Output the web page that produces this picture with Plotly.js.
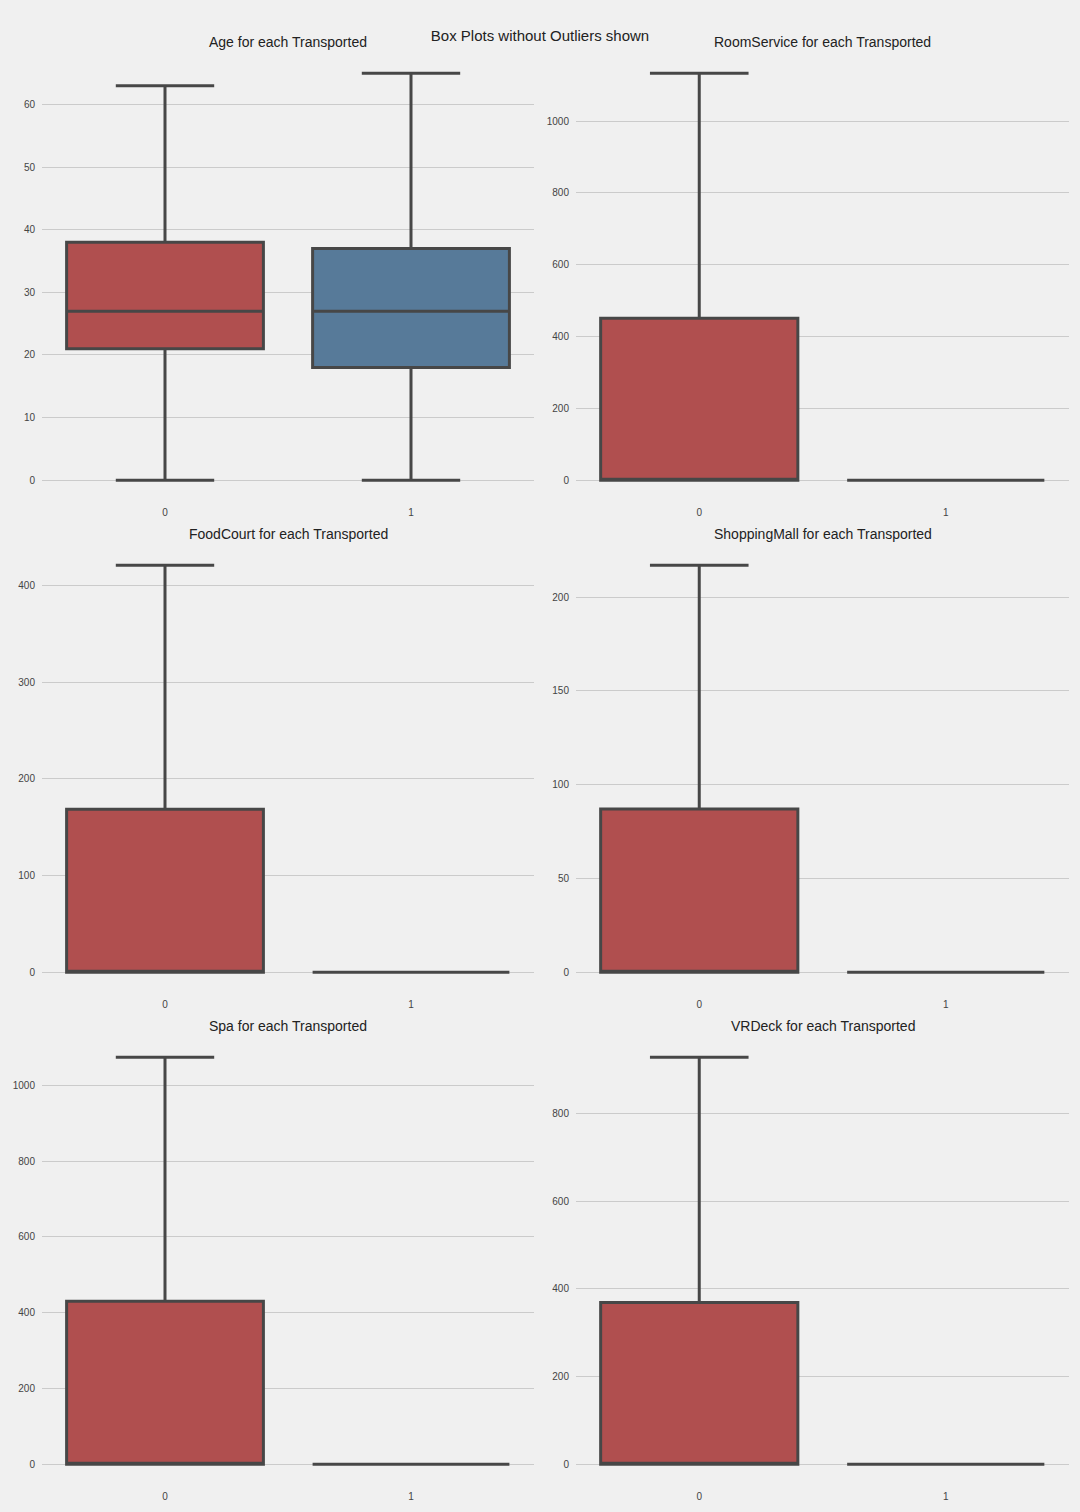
<!DOCTYPE html>
<html>
<head>
<meta charset="utf-8">
<script src="https://cdn.plot.ly/plotly-3.0.1.min.js"></script>
<style>html,body{margin:0;padding:0;background:#f0f0f0;}#chart{width:1080px;height:1512px;}</style>
</head>
<body>
<div id="chart"></div>
<script>
const categories = ['0', '1'];
const features = ['Age', 'RoomService', 'FoodCourt', 'ShoppingMall', 'Spa', 'VRDeck'];
// Transported = 0
const lower0 = [0, 0, 0, 0, 0, 0];
const q1_0 = [21, 0, 0, 0, 0, 0];
const med0 = [27, 0, 0, 0, 0, 0];
const q3_0 = [38, 451, 168.5, 87, 430, 369];
const upper0 = [63, 1133, 421, 217, 1074, 928];
// Transported = 1
const lower1 = [0, 0, 0, 0, 0, 0];
const q1_1 = [18, 0, 0, 0, 0, 0];
const med1 = [27, 0, 0, 0, 0, 0];
const q3_1 = [37, 0, 0, 0, 0, 0];
const upper1 = [65, 0, 0, 0, 0, 0];
const yDtick = [10, 200, 100, 50, 200, 200];

const colors = ['#b04f4f', '#577a99'];
const W = 1080, H = 1512;
const xDomains = [[42 / W, 534 / W], [576 / W, 1069 / W]];
const yDomains = [[1 - 500.5 / H, 1 - 53 / H], [1 - 992.5 / H, 1 - 545 / H], [1 - 1484.5 / H, 1 - 1037 / H]];

const stats = [
  {lo: lower0, q1: q1_0, med: med0, q3: q3_0, hi: upper0},
  {lo: lower1, q1: q1_1, med: med1, q3: q3_1, hi: upper1}
];

const traces = [];
const layout = {
  width: W, height: H,
  paper_bgcolor: '#f0f0f0', plot_bgcolor: '#f0f0f0',
  margin: {l: 0, r: 0, t: 0, b: 0},
  showlegend: false,
  boxmode: 'overlay',
  font: {family: 'Liberation Sans, Arial, sans-serif', color: '#333'},
  title: {text: 'Box Plots without Outliers shown', x: 0.5, xanchor: 'center', y: 1 - 36 / H, yanchor: 'middle',
          font: {size: 15, color: '#222'}},
  annotations: []
};

features.forEach((f, i) => {
  const row = Math.floor(i / 2), col = i % 2;
  const n = i + 1;
  const xa = 'x' + (n === 1 ? '' : n), ya = 'y' + (n === 1 ? '' : n);
  categories.forEach((c, k) => {
    const s = stats[k];
    traces.push({
      type: 'box', x: [c], xaxis: xa, yaxis: ya,
      q1: [s.q1[i]], median: [s.med[i]], q3: [s.q3[i]],
      lowerfence: [s.lo[i]], upperfence: [s.hi[i]],
      boxpoints: false, width: 0.8, whiskerwidth: 0.5,
      fillcolor: colors[k],
      line: {color: '#474747', width: 3},
      hoverinfo: 'skip'
    });
  });
  const ymax = Math.max(upper0[i], upper1[i]);
  const ymin = Math.min(lower0[i], lower1[i]);
  const pad = (ymax - ymin) * 0.05;
  const xKey = 'xaxis' + (n === 1 ? '' : n), yKey = 'yaxis' + (n === 1 ? '' : n);
  layout[xKey] = {
    domain: xDomains[col], anchor: ya, type: 'category',
    range: [-0.5, 1.5], showgrid: false, zeroline: false, showline: false,
    ticks: '', tickfont: {size: 10, color: '#444'}, ticklabelstandoff: 4
  };
  layout[yKey] = {
    domain: yDomains[row], anchor: xa,
    range: [ymin - pad, ymax + pad], dtick: yDtick[i], tick0: 0,
    showgrid: true, gridcolor: '#cbcbcb', gridwidth: 1,
    zeroline: false, showline: false, ticks: '',
    tickfont: {size: 10, color: '#444'}, ticklabelstandoff: 6
  };
  layout.annotations.push({
    text: f + ' for each Transported', showarrow: false,
    xref: 'paper', yref: 'paper',
    x: (xDomains[col][0] + xDomains[col][1]) / 2, xanchor: 'center',
    y: yDomains[row][1], yanchor: 'bottom', yshift: 1,
    font: {size: 14, color: '#222'}
  });
});

Plotly.newPlot('chart', traces, layout, {displayModeBar: false, staticPlot: true});
</script>
</body>
</html>
